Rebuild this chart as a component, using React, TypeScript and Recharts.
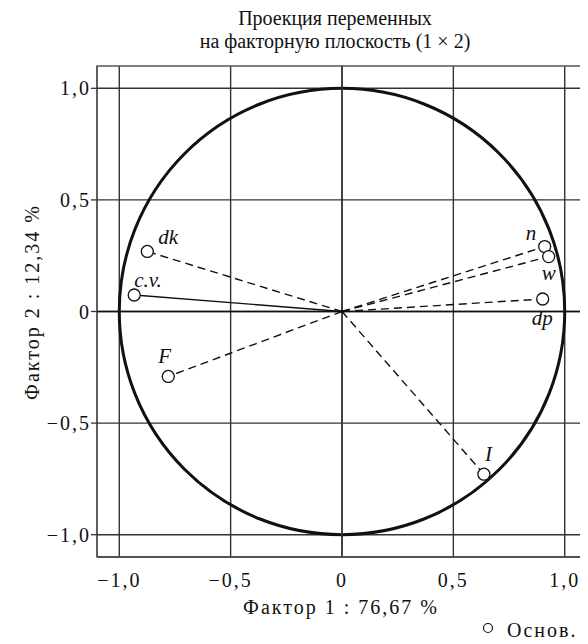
import React from 'react';
import {
  ScatterChart,
  Scatter,
  XAxis,
  YAxis,
  CartesianGrid,
  ReferenceLine,
  ReferenceArea,
} from 'recharts';

// ---- data ----
const variables = ['dk', 'c.v.', 'F', 'n', 'w', 'dp', 'I'];
const factor1 = [-0.874, -0.933, -0.78, 0.91, 0.928, 0.901, 0.637];
const factor2 = [0.269, 0.074, -0.291, 0.291, 0.246, 0.056, -0.729];
const solidVariables = ['c.v.'];
const xTicks = [-1, -0.5, 0, 0.5, 1];
const yTicks = [-1, -0.5, 0, 0.5, 1];
const domain: [number, number] = [-1.1, 1.1];

const titleLines = ['Проекция переменных', 'на факторную плоскость (1 × 2)'];
const xLabel = 'Фактор 1 : 76,67 %';
const yLabel = 'Фактор 2 : 12,34 %';
const legendLabel = 'Основ.';

// label placement (pixels relative to point)
const labelOffset: Record<string, [number, number]> = {
  dk: [11, -7],
  'c.v.': [0, -8],
  F: [-10, -13],
  n: [-19, -7],
  w: [-7, 23],
  dp: [-11, 26],
  I: [1, -13],
};

const points = variables.map((name, i) => ({ name, x: factor1[i], y: factor2[i] }));

const FONT = '"Liberation Serif", "Times New Roman", serif';
const W = 580;
const H = 636;

const fmt = (v: number) =>
  v === 0 ? '0' : v.toFixed(1).replace('.', ',').replace('-', '\u2212');

const PointShape = (p: any) => {
  const { cx, cy, payload } = p;
  const [dx, dy] = labelOffset[payload.name] || [0, 0];
  return (
    <g>
      <circle cx={cx} cy={cy} r={6} fill="#fff" stroke="#111" strokeWidth={1.3} />
      <text
        x={cx + dx}
        y={cy + dy}
        fontStyle="italic"
        fontFamily={FONT}
        fontSize={21}
        fill="#111"
      >
        {payload.name}
      </text>
    </g>
  );
};

const CircleShape = (p: any) => {
  const { x, y, width, height } = p;
  return (
    <ellipse
      cx={x + width / 2}
      cy={y + height / 2}
      rx={Math.abs(width) / 2}
      ry={Math.abs(height) / 2}
      fill="none"
      stroke="#111"
      strokeWidth={3}
    />
  );
};

const tickStyle = { fontFamily: FONT, fontSize: 20, fill: '#111', letterSpacing: 2 };

export default function App() {
  return (
    <div style={{ position: 'relative', width: W, height: H }}>
      <ScatterChart
        width={W}
        height={H}
        margin={{ top: 58, right: 1, bottom: 57, left: 0 }}
      >
        <CartesianGrid
          stroke="#333"
          strokeWidth={1.4}
          horizontalValues={yTicks}
          verticalValues={xTicks}
        />
        <XAxis
          type="number"
          dataKey="x"
          domain={domain}
          ticks={xTicks}
          allowDataOverflow
          tickFormatter={fmt}
          height={30}
          tickLine={false}
          tickSize={6}
          tickMargin={10}
          axisLine={{ stroke: '#444', strokeWidth: 1.3 }}
          tick={tickStyle}
        />
        <YAxis
          type="number"
          dataKey="y"
          domain={domain}
          ticks={yTicks}
          allowDataOverflow
          tickFormatter={fmt}
          width={89}
          tickSize={6}
          tickMargin={0}
          tickLine={{ stroke: '#333', strokeWidth: 1.3 }}
          axisLine={{ stroke: '#444', strokeWidth: 1.3 }}
          tick={tickStyle}
        />
        <ReferenceArea
          x1={domain[0]}
          x2={domain[1]}
          y1={domain[0]}
          y2={domain[1]}
          fill="none"
          stroke="#555"
          strokeWidth={1.3}
        />
        <ReferenceLine x={0} stroke="#333" strokeWidth={1.5} />
        <ReferenceLine y={0} stroke="#111" strokeWidth={1.5} />
        <ReferenceArea x1={-1} x2={1} y1={-1} y2={1} shape={CircleShape} />
        {points.map((pt) => (
          <ReferenceLine
            key={pt.name}
            segment={[
              { x: 0, y: 0 },
              { x: pt.x, y: pt.y },
            ]}
            stroke="#111"
            strokeWidth={1.4}
            strokeDasharray={solidVariables.includes(pt.name) ? undefined : '8 5'}
          />
        ))}
        <Scatter data={points} shape={PointShape} isAnimationActive={false} />
      </ScatterChart>
      <svg
        width={W}
        height={H}
        style={{ position: 'absolute', left: 0, top: 0, pointerEvents: 'none' }}
      >
        <text x={327} y={17} textAnchor="middle" fontFamily={FONT} fontSize={20} fill="#111">
          {titleLines[0]}
        </text>
        <text x={327} y={40} textAnchor="middle" fontFamily={FONT} fontSize={20} fill="#111">
          {titleLines[1]}
        </text>
        <text
          x={333}
          y={606}
          textAnchor="middle"
          fontFamily={FONT}
          fontSize={20}
          letterSpacing={2}
          fill="#111"
        >
          {xLabel}
        </text>
        <text
          x={31}
          y={294}
          textAnchor="middle"
          transform="rotate(-90 31 294)"
          fontFamily={FONT}
          fontSize={20}
          letterSpacing={2}
          fill="#111"
        >
          {yLabel}
        </text>
        <circle cx={480} cy={620} r={4.5} fill="#fff" stroke="#111" strokeWidth={1.2} />
        <text x={499} y={629} fontFamily={FONT} fontSize={20} letterSpacing={2} fill="#111">
          {legendLabel}
        </text>
      </svg>
    </div>
  );
}
